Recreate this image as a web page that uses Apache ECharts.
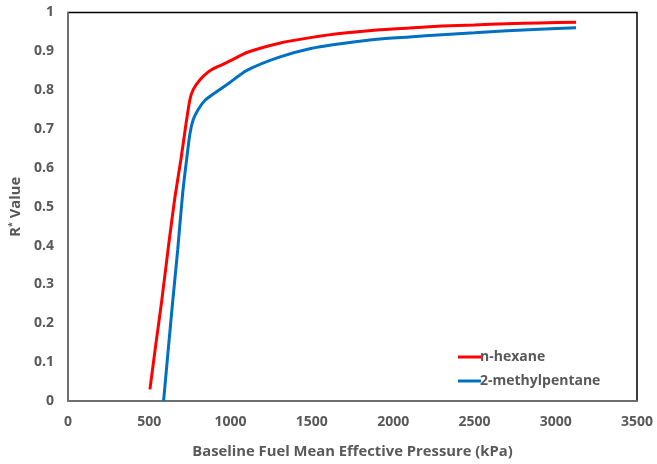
<!DOCTYPE html>
<html>
<head>
<meta charset="utf-8">
<script src="https://cdn.jsdelivr.net/npm/echarts@6/dist/echarts.min.js"></script>
<style>html,body{margin:0;padding:0;background:#fff}#c{width:657px;height:464px}</style>
</head>
<body>
<div id="c"></div>
<script>
var seriesNames = ['n-hexane', '2-methylpentane'];
var xTicks = [0, 500, 1000, 1500, 2000, 2500, 3000, 3500];
var yTicks = [0, 0.1, 0.2, 0.3, 0.4, 0.5, 0.6, 0.7, 0.8, 0.9, 1];
var hexaneX = [504, 540, 576, 620, 658, 695, 724, 750, 771, 812, 863, 900, 950, 1000, 1100, 1300, 1500, 1700, 1900, 2100, 2300, 2500, 2700, 2900, 3125];
var hexaneY = [0.03, 0.145, 0.256, 0.405, 0.525, 0.623, 0.708, 0.776, 0.802, 0.827, 0.847, 0.857, 0.866, 0.876, 0.897, 0.921, 0.936, 0.947, 0.955, 0.960, 0.965, 0.968, 0.971, 0.973, 0.975];
var methylX = [588, 615, 644, 675, 705, 730, 750, 771, 802, 843, 900, 996, 1100, 1300, 1500, 1700, 1900, 2100, 2300, 2500, 2700, 2900, 3125];
var methylY = [0, 0.125, 0.256, 0.39, 0.533, 0.623, 0.688, 0.725, 0.751, 0.774, 0.792, 0.82, 0.851, 0.885, 0.908, 0.921, 0.931, 0.937, 0.943, 0.948, 0.953, 0.957, 0.961];

function pairs(xs, ys) { return xs.map(function (x, i) { return [x, ys[i]]; }); }

var font = '"Open Sans", sans-serif';
var chart = echarts.init(document.getElementById('c'));
chart.setOption({
  animation: false,
  grid: { left: 68, right: 20, top: 12.5, bottom: 60.5, show: true, borderColor: '#000', borderWidth: 1.5, backgroundColor: 'transparent' },
  xAxis: {
    type: 'value', min: 0, max: 3500, interval: 500,
    name: 'Baseline Fuel Mean Effective Pressure (kPa)', nameLocation: 'middle', nameGap: 43,
    nameTextStyle: { color: '#595959', fontSize: 14.8, fontWeight: 'bold', fontFamily: font },
    axisLine: { show: true, lineStyle: { color: '#7f7f7f', width: 1.5 } },
    axisTick: { show: false }, splitLine: { show: false },
    axisLabel: { color: '#595959', fontSize: 14, fontWeight: 'bold', fontFamily: font, margin: 14,
      formatter: function (v) { return xTicks.indexOf(v) >= 0 ? String(v) : ''; } }
  },
  yAxis: {
    type: 'value', min: 0, max: 1, interval: 0.1,
    name: '{a|R}{s|*}{a| Value}', nameLocation: 'middle', nameGap: 42, nameRotate: 90,
    nameTextStyle: { rich: {
      a: { color: '#595959', fontSize: 14.8, fontWeight: 'bold', fontFamily: font },
      s: { color: '#595959', fontSize: 9, fontWeight: 'bold', fontFamily: font, verticalAlign: 'top', padding: [0, 0, 6, 0] }
    } },
    axisLine: { show: true, lineStyle: { color: '#7f7f7f', width: 1.5 } },
    axisTick: { show: false }, splitLine: { show: false },
    axisLabel: { color: '#595959', fontSize: 14, fontWeight: 'bold', fontFamily: font, margin: 14,
      formatter: function (v) {
        var r = Math.round(v * 10) / 10;
        return yTicks.indexOf(r) >= 0 ? String(r) : '';
      } }
  },
  legend: {
    orient: 'vertical', left: 453, top: 345, itemGap: 10,
    icon: 'rect', itemWidth: 23, itemHeight: 3,
    textStyle: { color: '#595959', fontSize: 14, fontWeight: 'bold', fontFamily: font, padding: [0, 0, 0, -6] },
    data: seriesNames
  },
  series: [
    { name: seriesNames[0], type: 'line', data: pairs(hexaneX, hexaneY), showSymbol: false, smooth: 0.2,
      lineStyle: { color: '#FF0000', width: 3 }, itemStyle: { color: '#FF0000' } },
    { name: seriesNames[1], type: 'line', data: pairs(methylX, methylY), showSymbol: false, smooth: 0.2,
      lineStyle: { color: '#0070C0', width: 3 }, itemStyle: { color: '#0070C0' } }
  ]
});
</script>
</body>
</html>
